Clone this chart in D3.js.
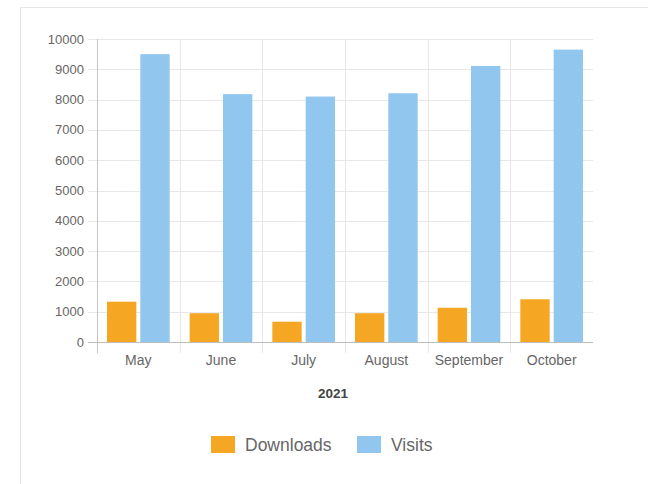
<!DOCTYPE html>
<html><head><meta charset="utf-8">
<script src="https://cdn.jsdelivr.net/npm/d3@7"></script>
<style>
html,body{margin:0;padding:0;background:#fff;}
svg{display:block;font-family:"Liberation Sans",Arial,sans-serif;}
</style></head>
<body>
<svg id="c" width="648" height="484"></svg>
<script>
const months = ["May","June","July","August","September","October"];
const downloads = [1330, 950, 670, 950, 1130, 1410];
const visits = [9500, 8180, 8100, 8210, 9110, 9650];
const seriesNames = ["Downloads","Visits"];
const seriesColors = ["#f5a623","#91c6ee"];
const yTicks = [0,1000,2000,3000,4000,5000,6000,7000,8000,9000,10000];
const xTitle = "2021";

const svg = d3.select("#c");
// card border
svg.append("line").attr("x1",20).attr("x2",648).attr("y1",7.5).attr("y2",7.5).attr("stroke","#e6e6e6");
svg.append("line").attr("x1",20.5).attr("x2",20.5).attr("y1",7).attr("y2",484).attr("stroke","#e6e6e6");

const L=97, R=593, T=39, B=342;
const x = d3.scaleBand().domain(months).range([L,R]).paddingInner(0).paddingOuter(0);
const y = d3.scaleLinear().domain([0,10000]).range([B,T]);
const inner = d3.scaleBand().domain(seriesNames).range([10, x.bandwidth()-10]).paddingInner(0.12);

// horizontal grid
const g = svg.append("g");
g.selectAll("line.h").data(yTicks).join("line")
 .attr("x1",L-9).attr("x2",R).attr("y1",d=>Math.round(y(d))+0.5).attr("y2",d=>Math.round(y(d))+0.5)
 .attr("stroke",d=>d===0?"#bdbdbd":"#e8e8e8");
// vertical grid at category boundaries
const bounds = months.map(m=>x(m));
g.selectAll("line.v").data(bounds).join("line")
 .attr("x1",d=>Math.round(d)+0.5).attr("x2",d=>Math.round(d)+0.5)
 .attr("y1",T).attr("y2",B+11)
 .attr("stroke",(d,i)=>i===0?"#c4c4c4":"#e8e8e8");

// y labels
svg.append("g").selectAll("text").data(yTicks).join("text")
 .attr("x",L-13).attr("y",d=>y(d)).attr("dy","0.35em").attr("text-anchor","end")
 .attr("font-size",13).attr("fill","#666").text(d=>d);

// bars
const data = months.map((m,i)=>({m, vals:[downloads[i],visits[i]]}));
const grp = svg.append("g").selectAll("g").data(data).join("g").attr("transform",d=>`translate(${x(d.m)},0)`);
grp.selectAll("rect").data(d=>d.vals.map((v,j)=>({v,s:seriesNames[j],c:seriesColors[j]}))).join("rect")
 .attr("x",d=>inner(d.s)).attr("width",inner.bandwidth())
 .attr("y",d=>y(d.v)).attr("height",d=>B-y(d.v)).attr("fill",d=>d.c);

// baseline redraw on top
svg.append("line").attr("x1",L-9).attr("x2",R).attr("y1",B+0.5).attr("y2",B+0.5).attr("stroke","#bdbdbd");

// x labels
svg.append("g").selectAll("text").data(months).join("text")
 .attr("x",d=>x(d)+x.bandwidth()/2).attr("y",360).attr("dy","0.35em").attr("text-anchor","middle")
 .attr("font-size",14).attr("fill","#666").text(d=>d);

// axis title
svg.append("text").attr("x",333).attr("y",393).attr("dy","0.35em").attr("text-anchor","middle")
 .attr("font-size",13.5).attr("font-weight","bold").attr("fill","#444").text(xTitle);

// legend
const legX = [211, 357];
const leg = svg.append("g").selectAll("g").data(seriesNames).join("g")
 .attr("transform",(d,i)=>`translate(${legX[i]},436)`);
leg.append("rect").attr("width",24).attr("height",17).attr("fill",(d,i)=>seriesColors[i]);
leg.append("text").attr("x",34).attr("y",8.5).attr("dy","0.35em").attr("font-size",17.5).attr("fill","#666").text(d=>d);
</script>
</body></html>
